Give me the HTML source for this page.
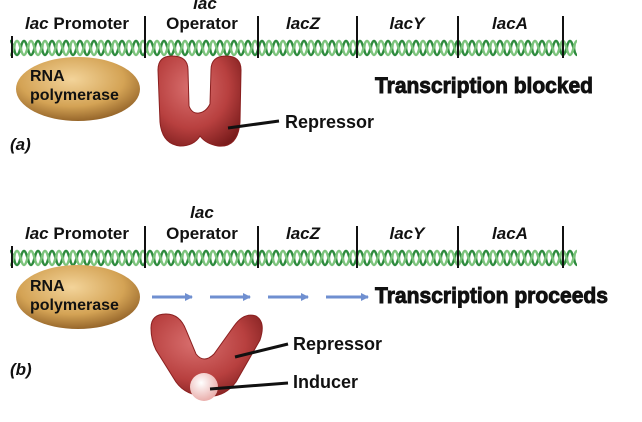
<!DOCTYPE html>
<html><head><meta charset="utf-8"><style>
html,body{margin:0;padding:0;background:#fff;}
svg{display:block;}
text{font-family:"Liberation Sans",sans-serif;font-weight:bold;fill:#111;}
.t{font-family:"Liberation Sans Narrow","Liberation Sans",sans-serif;font-size:22px;stroke:#111;stroke-width:0.9;}
</style></head><body>
<svg width="642" height="422" viewBox="0 0 642 422" xmlns="http://www.w3.org/2000/svg">
<defs>
<pattern id="dna" x="10" y="39" width="14" height="18" patternUnits="userSpaceOnUse">
<g stroke="#b9dcb9" stroke-width="1">
<line x1="3" y1="5" x2="3" y2="13"/><line x1="5.5" y1="4" x2="5.5" y2="14"/><line x1="10" y1="4" x2="10" y2="14"/><line x1="12" y1="5" x2="12" y2="13"/>
</g>
<path d="M0,2 C3,2 4,16 7,16 C10,16 11,2 14,2" fill="none" stroke="#2e8b3e" stroke-width="2.4"/>
<path d="M0,16 C3,16 4,2 7,2 C10,2 11,16 14,16" fill="none" stroke="#7cc47c" stroke-width="2.4"/>
</pattern>
<pattern id="dna2" x="10" y="249" width="14" height="18" patternUnits="userSpaceOnUse">
<g stroke="#b9dcb9" stroke-width="1">
<line x1="3" y1="5" x2="3" y2="13"/><line x1="5.5" y1="4" x2="5.5" y2="14"/><line x1="10" y1="4" x2="10" y2="14"/><line x1="12" y1="5" x2="12" y2="13"/>
</g>
<path d="M0,2 C3,2 4,16 7,16 C10,16 11,2 14,2" fill="none" stroke="#2e8b3e" stroke-width="2.4"/>
<path d="M0,16 C3,16 4,2 7,2 C10,2 11,16 14,16" fill="none" stroke="#7cc47c" stroke-width="2.4"/>
</pattern>
<radialGradient id="pol" cx="0.45" cy="0.35" r="0.7">
<stop offset="0" stop-color="#f3d49a"/><stop offset="0.6" stop-color="#d4a355"/><stop offset="1" stop-color="#8a5a22"/>
</radialGradient>
<radialGradient id="rep" cx="0.4" cy="0.35" r="0.75">
<stop offset="0" stop-color="#d9706f"/><stop offset="0.6" stop-color="#b8403f"/><stop offset="1" stop-color="#7a1c1c"/>
</radialGradient>
<radialGradient id="ind" cx="0.4" cy="0.35" r="0.7">
<stop offset="0" stop-color="#fff"/><stop offset="1" stop-color="#e8a9a6"/>
</radialGradient>
<marker id="ah" markerWidth="8" markerHeight="8" refX="7" refY="4" orient="auto" markerUnits="userSpaceOnUse"><path d="M0,0 L8,4 L0,8 Z" fill="#6f8fd0"/></marker>
</defs>

<!-- panel a -->
<rect x="10" y="39" width="567" height="18" fill="url(#dna)"/>
<g stroke="#111" stroke-width="2">
<line x1="12" y1="36" x2="12" y2="58"/><line x1="145" y1="16" x2="145" y2="58"/><line x1="258" y1="16" x2="258" y2="58"/><line x1="357" y1="16" x2="357" y2="58"/><line x1="458" y1="16" x2="458" y2="58"/><line x1="563" y1="16" x2="563" y2="58"/>
</g>
<g font-size="17">
<text x="25" y="29"><tspan font-style="italic">lac</tspan> Promoter</text>
<text x="205" y="9" text-anchor="middle" font-style="italic">lac</text>
<text x="202" y="29" text-anchor="middle">Operator</text>
<text x="303" y="29" text-anchor="middle" font-style="italic">lacZ</text>
<text x="407" y="29" text-anchor="middle" font-style="italic">lacY</text>
<text x="510" y="29" text-anchor="middle" font-style="italic">lacA</text>
</g>
<ellipse cx="78" cy="89" rx="62" ry="32" fill="url(#pol)"/>
<text x="30" y="81" font-size="16">RNA</text>
<text x="30" y="100" font-size="16">polymerase</text>
<path d="M158,70 Q158,56 172,56 Q188,56 188,70 L189,106 Q192,114 199,113 Q206,112 210,104 L211,70 Q211,56 226,56 Q241,56 241,70 L240,122 Q238,148 218,146 Q206,144 200,136 Q194,146 180,146 Q162,144 160,122 Z" fill="url(#rep)" stroke="#8a1f1f" stroke-width="1"/>
<line x1="228" y1="128" x2="279" y2="121" stroke="#111" stroke-width="3"/>
<text x="285" y="128" font-size="18">Repressor</text>
<text class="t" x="375" y="93" textLength="218" lengthAdjust="spacingAndGlyphs">Transcription blocked</text>
<text x="10" y="150" font-size="17" font-style="italic">(a)</text>

<!-- panel b -->
<rect x="10" y="249" width="567" height="18" fill="url(#dna2)"/>
<g stroke="#111" stroke-width="2">
<line x1="12" y1="246" x2="12" y2="268"/><line x1="145" y1="226" x2="145" y2="268"/><line x1="258" y1="226" x2="258" y2="268"/><line x1="357" y1="226" x2="357" y2="268"/><line x1="458" y1="226" x2="458" y2="268"/><line x1="563" y1="226" x2="563" y2="268"/>
</g>
<g font-size="17">
<text x="25" y="239"><tspan font-style="italic">lac</tspan> Promoter</text>
<text x="202" y="218" text-anchor="middle" font-style="italic">lac</text>
<text x="202" y="239" text-anchor="middle">Operator</text>
<text x="303" y="239" text-anchor="middle" font-style="italic">lacZ</text>
<text x="407" y="239" text-anchor="middle" font-style="italic">lacY</text>
<text x="510" y="239" text-anchor="middle" font-style="italic">lacA</text>
</g>
<ellipse cx="78" cy="297" rx="62" ry="32" fill="url(#pol)"/>
<text x="30" y="291" font-size="16">RNA</text>
<text x="30" y="310" font-size="16">polymerase</text>
<g stroke="#6f8fd0" stroke-width="3" marker-end="url(#ah)">
<line x1="152" y1="297" x2="192" y2="297"/><line x1="210" y1="297" x2="250" y2="297"/><line x1="268" y1="297" x2="308" y2="297"/><line x1="326" y1="297" x2="368" y2="297"/>
</g>
<text class="t" x="375" y="303" textLength="233" lengthAdjust="spacingAndGlyphs">Transcription proceeds</text>
<path d="M151,328 Q151,314 166,314 Q180,314 186,330 L196,354 Q204,364 214,354 L234,326 Q244,312 256,316 Q266,322 260,340 L236,382 Q224,398 206,396 Q186,396 176,382 L156,350 Q151,340 151,328 Z" fill="url(#rep)" stroke="#8a1f1f" stroke-width="1"/>
<circle cx="204" cy="387" r="14" fill="url(#ind)"/>
<line x1="235" y1="357" x2="288" y2="344" stroke="#111" stroke-width="3"/>
<text x="293" y="350" font-size="18">Repressor</text>
<line x1="210" y1="389" x2="288" y2="383" stroke="#111" stroke-width="3"/>
<text x="293" y="388" font-size="18">Inducer</text>
<text x="10" y="375" font-size="17" font-style="italic">(b)</text>
</svg>
</body></html>
